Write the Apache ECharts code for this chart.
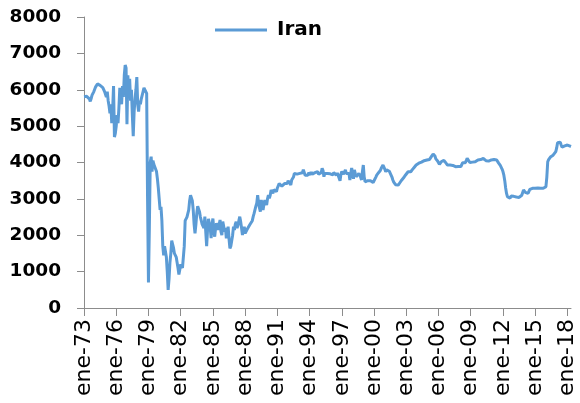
<!DOCTYPE html>
<html>
<head>
<meta charset="utf-8">
<script src="https://cdn.jsdelivr.net/npm/echarts@6/dist/echarts.min.js"></script>
<style>
  html, body { margin: 0; padding: 0; background: #fff; }
  #chart { width: 580px; height: 403px; }
</style>
</head>
<body>
<div id="chart"></div>
<script>
// Iran crude oil production, thousand barrels per day, monthly from ene-73
const monthNames = ['ene', 'feb', 'mar', 'abr', 'may', 'jun', 'jul', 'ago', 'sep', 'oct', 'nov', 'dic'];
const firstYear = 1973;
const seriesName = 'Iran';

const iran1973_1978 = [
  5810, 5830, 5850, 5820, 5800, 5790, 5750, 5680, 5760, 5850, 5900, 5950,
  6000, 6080, 6130, 6160, 6180, 6150, 6120, 6100, 6080, 6060, 6020, 5950,
  5900, 5800, 5950, 5700, 5550, 5350, 5600, 5080, 5450, 6100, 4700, 4800,
  5000, 5300, 5080, 5500, 6050, 5750, 5600, 6100, 5800, 6400, 6680, 6600,
  5050, 6400, 5800, 6300, 5700, 6000, 5300, 4720, 5400, 5750, 6000, 6350,
  5600, 5400, 5700, 5600, 5750, 5800, 5950, 6050, 6100, 6050, 5900, 3000
];
const iran1979_1984 = [
  700, 2200, 4000, 4160, 3750, 4050, 3950, 3930, 3900, 3750, 3550, 3300,
  3000, 2700, 2780, 2400, 1700, 1450, 1700, 1750, 1400, 1000, 500, 800,
  1250, 1500, 1850, 1750, 1650, 1500, 1550, 1400, 1250, 1100, 920, 1050,
  1200, 1150, 1100, 1100, 1700, 2400, 2450, 2500, 2550, 2700, 2950, 3100,
  3100, 2950, 2700, 2300, 2050, 2300, 2600, 2800, 2750, 2650, 2500, 2400,
  2300, 2330, 2200, 2510, 2100, 1700, 2150, 2450, 2500, 2200, 1920, 2300
];
const iran1985_1990 = [
  2460, 2150, 1960, 2200, 2330, 2250, 2145, 2300, 2420, 2100, 2005, 2375,
  2250, 2100, 2200, 1915, 2100, 2235, 1900, 1640, 1700, 1685, 2000, 2235,
  2145, 2300, 2375, 2200, 2280, 2400, 2510, 2375, 2200, 2005, 2150, 2235,
  2050, 2100, 2150, 2145, 2200, 2280, 2300, 2330, 2400, 2510, 2600, 2650,
  2800, 2880, 3105, 2880, 2750, 2650, 2970, 2850, 2695, 2850, 2970, 2900,
  2830, 3000, 3105, 3015, 3100, 3245, 3200, 3150, 3250, 3290, 3250, 3200
];
const iran1991_1996 = [
  3300, 3335, 3420, 3380, 3450, 3350, 3300, 3400, 3420, 3380, 3450, 3420,
  3500, 3520, 3450, 3380, 3520, 3500, 3600, 3700, 3720, 3750, 3680, 3700,
  3650, 3700, 3750, 3680, 3720, 3800, 3840, 3650, 3610, 3700, 3650, 3720,
  3700, 3660, 3740, 3680, 3700, 3650, 3720, 3680, 3700, 3750, 3680, 3700,
  3650, 3720, 3840, 3780, 3610, 3700, 3680, 3740, 3700, 3650, 3720, 3690,
  3700, 3680, 3660, 3720, 3700, 3690, 3650, 3710, 3680, 3700, 3500, 3680
];
const iran1997_2002 = [
  3750, 3700, 3680, 3720, 3800, 3700, 3680, 3650, 3700, 3520, 3700, 3850,
  3700, 3550, 3800, 3700, 3610, 3560, 3650, 3700, 3745, 3600, 3520, 3750,
  3930, 3600, 3470, 3425, 3480, 3500, 3460, 3520, 3500, 3520, 3480, 3450,
  3425, 3500, 3600, 3655, 3700, 3720, 3745, 3780, 3840, 3880, 3930, 3880,
  3820, 3745, 3800, 3840, 3800, 3760, 3720, 3655, 3600, 3520, 3460, 3420,
  3390, 3380, 3355, 3380, 3425, 3450, 3480, 3520, 3550, 3580, 3620, 3650
];
const iran2003_2008 = [
  3655, 3700, 3745, 3745, 3750, 3745, 3745, 3810, 3840, 3870, 3900, 3930,
  3950, 3970, 3980, 3995, 4000, 4010, 4020, 4030, 4050, 4050, 4060, 4070,
  4075, 4080, 4085, 4100, 4160, 4200, 4235, 4200, 4180, 4100, 4070, 4040,
  4020, 3950, 3930, 4020, 4050, 4070, 4060, 4020, 3995, 3960, 3930, 3930,
  3930, 3930, 3930, 3950, 3920, 3900, 3890, 3885, 3885, 3885, 3890, 3885,
  3885, 3890, 3900, 3995, 3990, 4000, 3995, 4050, 4115, 4100, 4080, 4000
];
const iran2009_2014 = [
  3975, 4020, 4010, 4020, 4030, 4020, 4040, 4060, 4070, 4060, 4070, 4080,
  4085, 4090, 4110, 4140, 4100, 4050, 4020, 4020, 4040, 4060, 4070, 4070,
  4080, 4085, 4085, 4080, 4085, 4070, 4040, 3990, 3960, 3920, 3880, 3820,
  3750, 3650, 3500, 3300, 3150, 3060, 3100, 3060, 3015, 3080, 3060, 3090,
  3070, 3080, 3060, 3050, 3070, 3100, 3040, 3060, 3080, 3100, 3150, 3245,
  3230, 3180, 3160, 3140, 3150, 3200, 3260, 3290, 3290, 3290, 3290, 3290
];
const iran2015_2018 = [
  3290, 3290, 3290, 3300, 3290, 3290, 3290, 3290, 3300, 3290, 3290, 3300,
  3335, 3600, 4020, 4080, 4115, 4150, 4160, 4170, 4200, 4240, 4250, 4300,
  4400, 4545, 4560, 4575, 4560, 4480, 4420, 4390, 4430, 4455, 4460, 4470,
  4480, 4470, 4435, 4450, 4440
];

const iranProduction = [].concat(
  iran1973_1978, iran1979_1984, iran1985_1990, iran1991_1996,
  iran1997_2002, iran2003_2008, iran2009_2014, iran2015_2018
);

// month labels such as "ene-73", one per value
const monthLabels = iranProduction.map(function (_, i) {
  const year = firstYear + Math.floor(i / 12);
  return monthNames[i % 12] + '-' + String(year % 100).padStart(2, '0');
});

const chart = echarts.init(document.getElementById('chart'), null, { renderer: 'canvas' });
chart.setOption({
  animation: false,
  backgroundColor: '#ffffff',
  grid: { left: 84, right: 9, top: 17, bottom: 95, containLabel: false },
  legend: {
    data: [seriesName],
    left: 210,
    top: 15,
    icon: 'rect',
    itemWidth: 52,
    itemHeight: 3,
    textStyle: {
      fontFamily: 'DejaVu Sans',
      fontWeight: 'bold',
      fontSize: 20,
      color: '#000',
      padding: [0, 0, 0, 5]
    }
  },
  xAxis: {
    type: 'category',
    data: monthLabels,
    boundaryGap: false,
    axisLine: { show: true, lineStyle: { color: '#8c8c8c', width: 1 } },
    axisTick: { show: true, interval: 35, length: 8, lineStyle: { color: '#8c8c8c' } },
    axisLabel: {
      interval: 35,
      rotate: 90,
      margin: 11,
      fontFamily: 'DejaVu Sans',
      fontSize: 22,
      color: '#000'
    },
    splitLine: { show: false }
  },
  yAxis: {
    type: 'value',
    min: 0,
    max: 8000,
    interval: 1000,
    axisLine: { show: true, lineStyle: { color: '#8c8c8c', width: 1 } },
    axisTick: { show: true, length: 7, lineStyle: { color: '#8c8c8c' } },
    axisLabel: {
      margin: 23,
      formatter: function (v) { return String(v); },
      fontFamily: 'DejaVu Sans',
      fontWeight: 'bold',
      fontSize: 18.5,
      color: '#000'
    },
    splitLine: { show: false }
  },
  series: [{
    name: seriesName,
    type: 'line',
    data: iranProduction,
    symbol: 'none',
    lineStyle: { color: '#5b9bd5', width: 3 },
    itemStyle: { color: '#5b9bd5' }
  }]
});
</script>
</body>
</html>
